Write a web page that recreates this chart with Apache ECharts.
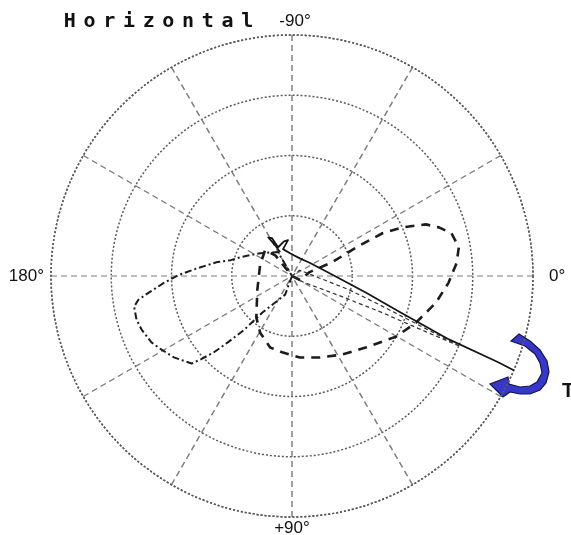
<!DOCTYPE html>
<html>
<head>
<meta charset="utf-8">
<title>Horizontal</title>
<script src="https://cdn.jsdelivr.net/npm/echarts@6/dist/echarts.min.js"></script>
<style>
  html, body { margin: 0; padding: 0; background: #fff; }
  #chart { width: 571px; height: 535px; }
</style>
</head>
<body>
<div id="chart"></div>
<script>
// Radiation pattern, horizontal plane. Each trace is [radius, angle in degrees],
// angle measured clockwise from 0° (right), so +90° is at the bottom.
const TITLE = 'Horizontal';

const angleTickValues = [0, 90, 180, 270];
const angleTickLabels = ['0°', '+90°', '180°', '-90°'];

const solidLobe = [
  [4.4, 243.4], [5.8, 241.3], [7.5, 238.4], [7.1, 242.2], [5.3, 244.2],
  [5.9, 257.1], [6.0, 263.7], [4.7, 251.6], [3.8, 265], [3.2, 294],
  [3.7, 324.2], [6.8, 358.6], [12.7, 12.8], [18.7, 18.4], [28.1, 22.0],
  [37.1, 22.7], [43.9, 23.4]
];

const longDashLobe = [
  [0, 0], [1.5, 26.6], [3.0, 347.5], [7.1, 341], [11.7, 336], [16.6, 334.7],
  [20.0, 336.2], [23.8, 338.9], [25.7, 341.7], [27.4, 345], [28.1, 350.2],
  [27.4, 355.5], [26.0, 2.5], [24.3, 10.5], [22.0, 20.6], [20.0, 30.2],
  [17.1, 43.8], [15.5, 57.2], [14.3, 71.1], [13.6, 84.4], [12.8, 96.7],
  [12.4, 107], [10.8, 119.3], [9.1, 130.6], [6.2, 158.2], [5.6, 199],
  [6.2, 223.9], [4.4, 231], [0, 0]
];

const dashDotLobe = [
  [0, 0], [3.3, 110.2], [7.8, 129], [12.1, 131.7], [15.4, 134.1], [18.2, 135.7],
  [20.5, 137.6], [22.1, 138.9], [23.8, 145.4], [24.9, 150.7], [25.8, 154.7],
  [26.5, 160.4], [26.8, 164.3], [26.7, 169], [25.8, 171.2], [24.0, 173.3],
  [21.3, 176.9], [18.8, 180.5], [15.7, 184.8], [12.6, 190.6], [10.5, 194.5],
  [9.1, 200.1], [6.5, 215.7], [4.6, 239.7], [0, 0]
];

const shortDashLobe = [
  [0, 0], [1.6, 323], [9.8, 13.6], [15.3, 18.2], [21.3, 20.8], [30.3, 22.7],
  [21.0, 22.5], [16.2, 22.1], [9.1, 22.4], [2.1, 28.6], [0, 0]
];

const chart = echarts.init(document.getElementById('chart'), null, { renderer: 'canvas' });

// per-label rich styles nudge each compass label to its place around the rim
const labelRich = {
  l0:   { padding: [0, 0, 0, 13] },
  l90:  { padding: [0, 0, 0, 0] },
  l180: { padding: [0, 4, 0, 0] },
  l270: { padding: [0, 0, 2, 6] }
};
const richKeys = { 0: 'l0', 90: 'l90', 180: 'l180', 270: 'l270' };

const titleRich = { c: { width: 19.7, align: 'center', fontFamily: 'DejaVu Sans Mono', fontWeight: 'bold', fontSize: 20, color: '#111' } };
const titleText = TITLE.split('').map(ch => '{c|' + ch + '}').join('');

const gridColors = [];
for (let a = 0; a < 360; a += 30) gridColors.push(a % 180 === 0 ? '#a8a8a8' : '#777');

function lobe(data, width, type, color) {
  return {
    type: 'line',
    coordinateSystem: 'polar',
    data: data,
    showSymbol: false,
    clip: false,
    silent: true,
    animation: false,
    lineStyle: { color: color, width: width, type: type, cap: 'butt', join: 'round' }
  };
}

// curved annotation arrow beside the main beam
const arrowOutline = [
  [519, 334], [530, 341], [540, 350], [547, 361], [549, 372], [546, 383], [540, 390],
  [530, 394], [520, 394], [510, 392], [503, 397], [490, 384], [508, 377], [509, 384],
  [520, 387], [530, 386], [537, 382], [542, 373], [540, 363], [535, 354], [525, 346], [511, 341]
];

chart.setOption({
  animation: false,
  backgroundColor: '#fff',
  title: {
    text: titleText,
    left: 60,
    top: 12,
    padding: 0,
    textStyle: { rich: titleRich }
  },
  polar: { center: [292, 276], radius: 241 },
  angleAxis: {
    type: 'value',
    min: 0,
    max: 360,
    interval: 30,
    startAngle: 0,
    clockwise: true,
    axisLine: { show: true, lineStyle: { color: '#5a5a5a', width: 1.5, type: [2, 2] } },
    axisTick: { show: false },
    splitLine: { show: true, lineStyle: { color: gridColors, width: 1.4, type: [6, 4] } },
    axisLabel: {
      show: true,
      margin: 3,
      color: '#111',
      fontFamily: 'Liberation Sans',
      fontSize: 17,
      formatter: function (v) {
        const i = angleTickValues.indexOf(v);
        if (i < 0) return '';
        return '{' + richKeys[v] + '|' + angleTickLabels[i] + '}';
      },
      rich: labelRich
    }
  },
  radiusAxis: {
    type: 'value',
    min: 0,
    max: 40,
    interval: 10,
    axisLine: { show: false },
    axisTick: { show: false },
    axisLabel: { show: false },
    splitLine: { show: true, lineStyle: { color: '#5a5a5a', width: 1.5, type: [2, 2] } }
  },
  series: [
    lobe(dashDotLobe, 2, [7, 3, 2, 3], '#1c1c1c'),
    lobe(longDashLobe, 2.6, [9, 7], '#1c1c1c'),
    lobe(shortDashLobe, 1.2, [4, 3], '#333'),
    lobe(solidLobe, 1.8, 'solid', '#161616')
  ],
  graphic: [
    {
      type: 'polygon',
      silent: true,
      shape: { points: arrowOutline },
      style: { fill: '#3838c8', stroke: '#141450', lineWidth: 1.2 }
    },
    {
      type: 'text',
      left: 562,
      top: 381,
      silent: true,
      style: { text: 'T', fontFamily: 'Liberation Sans', fontWeight: 'bold', fontSize: 20, fill: '#111' }
    }
  ]
});
</script>
</body>
</html>
